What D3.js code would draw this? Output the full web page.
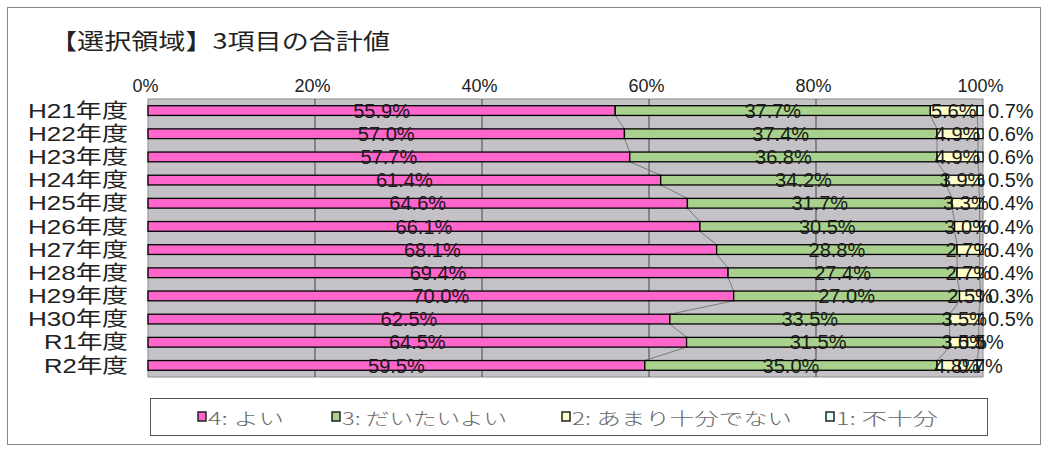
<!DOCTYPE html>
<html><head><meta charset="utf-8">
<script src="https://cdn.jsdelivr.net/npm/d3@7"></script>
<style>body{margin:0;background:#fff}svg{display:block}</style>
</head><body>
<script>
const title = "【選択領域】3項目の合計値";
const categories = ["H21年度","H22年度","H23年度","H24年度","H25年度","H26年度","H27年度","H28年度","H29年度","H30年度","R1年度","R2年度"];
const s4 = [55.9,57.0,57.7,61.4,64.6,66.1,68.1,69.4,70.0,62.5,64.5,59.5];
const s3 = [37.7,37.4,36.8,34.2,31.7,30.5,28.8,27.4,27.0,33.5,31.5,35.0];
const s2 = [5.6,4.9,4.9,3.9,3.3,3.0,2.7,2.7,2.5,3.5,3.5,4.8];
const s1 = [0.7,0.6,0.6,0.5,0.4,0.4,0.4,0.4,0.3,0.5,0.5,0.7];
const seriesNames = ["4: よい","3: だいたいよい","2: あまり十分でない","1: 不十分"];
const seriesColors = ["#FF66CC","#A9D18E","#FFFFCC","#E8FFFF"];
const tickValues = [0,0.2,0.4,0.6,0.8,1];
const tickLabels = ["0%","20%","40%","60%","80%","100%"];

(function(){
const W=1048,H=451;
const svg=d3.select("body").append("svg").attr("width",W).attr("height",H);
svg.append("rect").attr("x",7.5).attr("y",7.5).attr("width",1033).attr("height",437).attr("fill","#fff").attr("stroke","#888");

svg.append("text").attr("x",50).attr("y",49).attr("font-family","'Noto Sans CJK JP'").attr("font-size",22)
  .attr("textLength",340).attr("lengthAdjust","spacingAndGlyphs").attr("fill","#222").text(title);

const pL=148,pR=983,pT=99,pB=377;
const x=d3.scaleLinear().domain([0,1]).range([pL,pR]);
const y=d3.scaleBand().domain(categories).range([pT,pB]).paddingInner(0.58).paddingOuter(0.29);

const rows=categories.map((c,i)=>({cat:c,a:s4[i],b:s3[i],c2:s2[i],d:s1[i]}));
const keys=["a","b","c2","d"];
const stack=d3.stack().keys(keys).offset(d3.stackOffsetExpand)(rows);

svg.append("rect").attr("x",pL).attr("y",pT).attr("width",pR-pL).attr("height",pB-pT).attr("fill","#C4C2C6").attr("stroke","#8a8a8a");

svg.append("g").selectAll("line").data(tickValues.slice(1,-1)).join("line")
  .attr("x1",d=>x(d)).attr("x2",d=>x(d)).attr("y1",pT).attr("y2",pB).attr("stroke","#444").attr("stroke-width",1);

const ax=d3.axisTop(x).tickValues(tickValues).tickFormat((d,i)=>tickLabels[i]).tickSize(0).tickPadding(0);
const axG=svg.append("g").attr("transform",`translate(-3,92)`).call(ax);
axG.select(".domain").remove();
axG.selectAll("text").attr("font-family","'Liberation Sans',Arial").attr("font-size",18).attr("fill","#222").attr("dy",0);

const ay=d3.axisLeft(y).tickSize(0).tickPadding(0);
const ayG=svg.append("g").attr("transform",`translate(128,0)`).call(ay);
ayG.select(".domain").remove();
ayG.selectAll("text").attr("font-family","'Liberation Sans','Noto Sans CJK JP'").attr("font-size",20).attr("fill","#222")
  .attr("dy","0.36em")
  .attr("textLength",d=>d.startsWith("R")?84:100).attr("lengthAdjust","spacingAndGlyphs");

const sl=svg.append("g").attr("stroke","#7a7a7a").attr("stroke-width",1).attr("fill","none");
for(let k=0;k<3;k++){
  const layer=stack[k];
  for(let i=0;i<categories.length-1;i++){
    sl.append("line")
      .attr("x1",x(layer[i][1])).attr("y1",y(categories[i])+y.bandwidth())
      .attr("x2",x(layer[i+1][1])).attr("y2",y(categories[i+1]));
  }
}

stack.forEach((layer,k)=>{
  svg.append("g").selectAll("rect").data(layer).join("rect")
    .attr("x",d=>x(d[0])).attr("width",d=>x(d[1])-x(d[0]))
    .attr("y",d=>y(d.data.cat)).attr("height",y.bandwidth())
    .attr("fill",seriesColors[k]).attr("stroke","#000").attr("stroke-width",1.3);
});

const vals=[s4,s3,s2,s1];
stack.forEach((layer,k)=>{
  svg.append("g").selectAll("text").data(layer).join("text")
    .attr("x",(d,i)=>{
      if(k===3 && i<10) return 988;
      return x((d[0]+d[1])/2);
    })
    .attr("text-anchor",(d,i)=>(k===3&&i<10)?"start":"middle")
    .attr("y",d=>y(d.data.cat)+y.bandwidth()/2)
    .attr("dy","0.36em")
    .attr("font-family","'Liberation Sans',Arial").attr("font-size",20).attr("fill","#1a1a1a")
    .text((d,i)=>vals[k][i].toFixed(1)+"%");
});

svg.append("rect").attr("x",150.5).attr("y",398.5).attr("width",837).attr("height",37).attr("fill","#fff").attr("stroke","#555");
const legX=[198,332,562,826];
const legW=[76,165,220,102];
const lg=svg.append("g").selectAll("g").data(seriesNames).join("g").attr("transform",(d,i)=>`translate(${legX[i]},0)`);
lg.append("rect").attr("x",0).attr("y",412).attr("width",8).attr("height",9).attr("fill",(d,i)=>seriesColors[i]).attr("stroke","#222").attr("stroke-width",1.5);
lg.append("text").attr("x",10).attr("y",425).attr("font-family","'Noto Sans CJK JP'").attr("font-size",17).attr("font-weight",300).attr("fill","#666")
  .attr("textLength",(d,i)=>legW[i]).attr("lengthAdjust","spacingAndGlyphs").text(d=>d);
})();
</script>
</body></html>
